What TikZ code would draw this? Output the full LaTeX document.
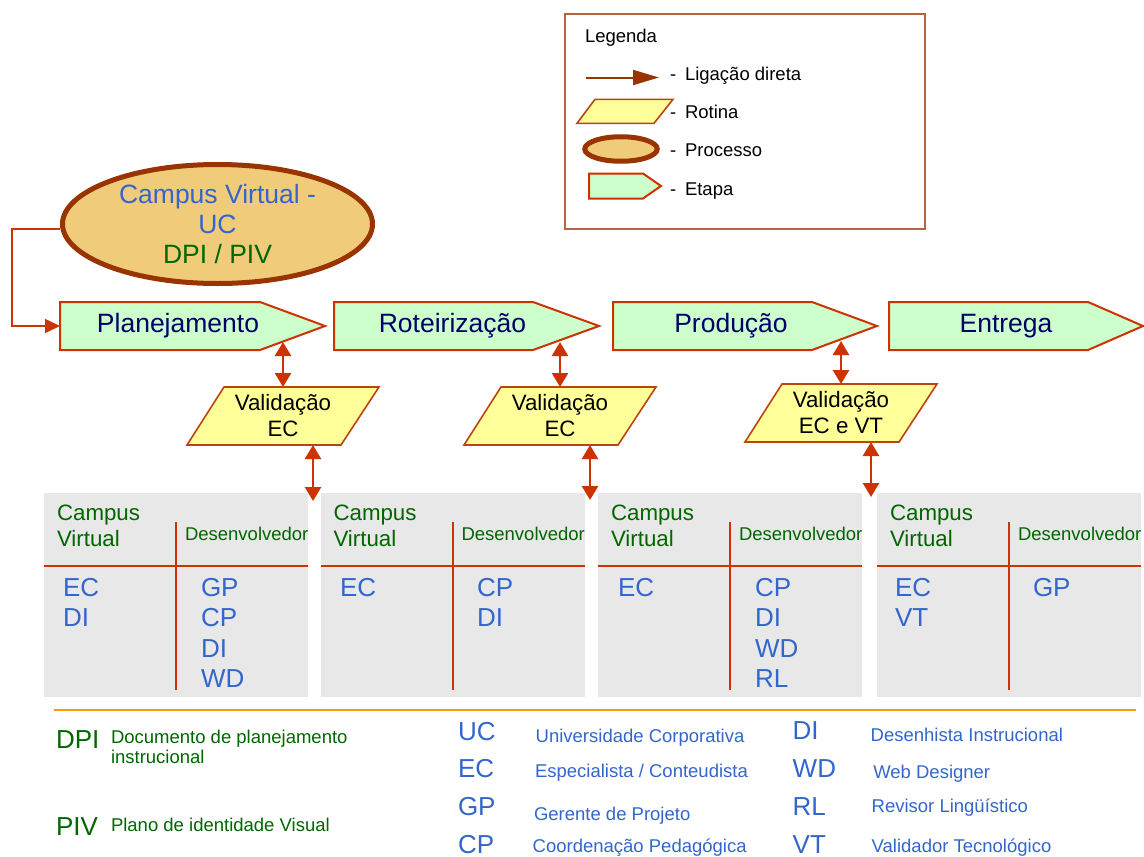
\documentclass[tikz,border=0pt]{standalone}
\usepackage{fontspec}
\setmainfont{Liberation Sans}
\usetikzlibrary{arrows.meta,shapes.geometric,backgrounds}

\definecolor{edge}{HTML}{CC3300}
\definecolor{darkrust}{HTML}{993300}
\definecolor{ochre}{HTML}{F0CC7A}
\definecolor{stagefill}{HTML}{CCFFCC}
\definecolor{navytext}{HTML}{000066}
\definecolor{valfill}{HTML}{FFFF99}
\definecolor{valedge}{HTML}{BB4411}
\definecolor{panelgray}{HTML}{E8E8E8}
\definecolor{cvblue}{HTML}{3366CC}
\definecolor{dgreen}{HTML}{006600}
\definecolor{legedge}{HTML}{B5653F}
\definecolor{orangeline}{HTML}{FF9900}

\newcommand\setfs[2]{\fontsize{#1}{#2}\selectfont}

\begin{document}
\begin{tikzpicture}[x=1pt,y=-1pt,
  every node/.style={inner sep=0pt, outer sep=0pt},
  lbl/.style={font=\setfs{18.5}{21}, text=black, anchor=base west},
  stagearea/.style={minimum height=48},
  stagesh/.style={draw=edge, line width=2pt, fill=stagefill},
  stagetext/.style={font=\setfs{26.5}{30}, text=navytext},
  valsh/.style={draw=valedge, line width=1.6pt, fill=valfill},
  valnode/.style={minimum width=192, minimum height=58, align=center,
                  font=\setfs{22.3}{26}, text=black},
  dbl/.style={draw=edge, line width=2.5pt,
              {Triangle[length=14pt,width=16pt]}-{Triangle[length=14pt,width=16pt]}},
  conn/.style={draw=edge, line width=1.5pt, -{Triangle[length=15pt,width=14pt]}},
  panel/.style={fill=panelgray, minimum width=264, minimum height=204},
  pline/.style={draw=edge, line width=2pt},
  hdr/.style={font=\setfs{22.3}{26}, text=dgreen, anchor=base west},
  dev/.style={font=\setfs{18.5}{21}, text=dgreen, anchor=base west},
  item/.style={font=\setfs{26}{30}, text=cvblue, anchor=base west},
  gcode/.style={font=\setfs{26}{30}, anchor=base west},
  gdesc/.style={font=\setfs{18.5}{21}, anchor=base west}]
\useasboundingbox (0,0) rectangle (1144,857);

% ---------- legend ----------
\node[draw=legedge, line width=1.3pt, minimum width=360, minimum height=215] (leg) at (745,121.5) {};
\node[lbl] (legt) at (585,42) {Legenda};
\coordinate (la0) at (586,77.5);
\coordinate (la1) at (659,77.5);
\draw[line width=2pt, darkrust, -{Triangle[length=26pt,width=15pt]}] (la0) -- (la1);
\draw[valsh] (577,123.3) -- (595,99.3) -- (673,99.3) -- (654,123.3) -- cycle;
\node[ellipse, draw=darkrust, line width=5pt, fill=ochre, minimum width=72.5, minimum height=24.5] (lell) at (621,149) {};
\draw[stagesh] (589,173.5) -- (643,173.5) -- (661,186) -- (643,198.5) -- (589,198.5) -- cycle;
\foreach \k/\y/\t in {1/80.7/Ligação direta, 2/118.3/Rotina, 3/156.7/Processo, 4/195.7/Etapa} {
  \node[lbl] (ld\k) at (670,\y) {-};
  \node[lbl] (lt\k) at (685,\y) {\t};
}

% ---------- process ellipse ----------
\node[ellipse, draw=darkrust, line width=5pt, fill=ochre, outer sep=2.5pt,
      minimum width=310, minimum height=119, align=center,
      font=\setfs{26.5}{30}, text=cvblue] (cv) at (217.5,224)
      {Campus Virtual -\\UC\\\textcolor{dgreen}{DPI / PIV}};

% ---------- stages ----------
\foreach \i/\cx/\w/\n/\tx/\lab in {1/192.5/265/65/178/Planejamento,
                                   2/466.5/265/66/452.5/Roteirização,
                                   3/745/264/65/731/Produção,
                                   4/1016/254/55/1006/Entrega} {
  \node[stagearea, minimum width=\w] (s\i) at (\cx,326) {};
  \begin{pgfonlayer}{background}
    \draw[stagesh] (s\i.north west) -- ([xshift=-\n]s\i.north east) -- (s\i.east)
      -- ([xshift=-\n]s\i.south east) -- (s\i.south west) -- cycle;
  \end{pgfonlayer}
  \node[stagetext] (st\i) at (\tx,326) {\lab};
}

\draw[conn] ([yshift=-5pt]cv.west) -- ++(-48,0) |- (s1.west);

% ---------- validation routines ----------
\node[valnode] (v1) at (283,416) {Validação\\EC};
\node[valnode] (v2) at (560,416) {Validação\\EC};
\node[valnode] (v3) at (841,413) {Validação\\EC e VT};
\begin{pgfonlayer}{background}
  \foreach \v in {v1,v2,v3}
    \draw[valsh] (\v.south west) -- ([xshift=37]\v.north west) -- (\v.north east)
      -- ([xshift=-38]\v.south east) -- cycle;
\end{pgfonlayer}

\draw[dbl] (v1.north) -- ++(0,-45);
\draw[dbl] (v2.north) -- ++(0,-45);
\draw[dbl] (v3.north) -- ++(0,-43);
\draw[dbl] ([xshift=30]v1.south) -- ++(0,56);
\draw[dbl] ([xshift=30]v2.south) -- ++(0,55);
\draw[dbl] ([xshift=30]v3.south) -- ++(0,55);

% ---------- role panels ----------
\foreach \i/\x/\c in {1/44/176, 2/320.5/452.5, 3/598/730, 4/877/1009} {
  \node[panel] (pan\i) at (\c,595) {};
  \draw[pline] ([yshift=-73]pan\i.north west) -- ([yshift=-73]pan\i.north east);
  \draw[pline] ([yshift=-29]pan\i.north) -- ([yshift=7]pan\i.south);
  \node[hdr] (pc\i) at ({\x+13},520.7) {Campus};
  \node[hdr] (pv\i) at ({\x+13},546.7) {Virtual};
  \node[dev] (pd\i) at ({\c+9},540.7) {Desenvolvedor};
}
\foreach \t [count=\k] in {EC,DI}       \node[item] (p1l\k) at (63,{596+30.6*(\k-1)}) {\t};
\foreach \t [count=\k] in {GP,CP,DI,WD} \node[item] (p1r\k) at (201,{596+30.6*(\k-1)}) {\t};
\node[item] (p2l1) at (340,596) {EC};
\foreach \t [count=\k] in {CP,DI}       \node[item] (p2r\k) at (477,{596+30.6*(\k-1)}) {\t};
\node[item] (p3l1) at (618,596) {EC};
\foreach \t [count=\k] in {CP,DI,WD,RL} \node[item] (p3r\k) at (755,{596+30.6*(\k-1)}) {\t};
\foreach \t [count=\k] in {EC,VT}       \node[item] (p4l\k) at (895,{596+30.6*(\k-1)}) {\t};
\node[item] (p4r1) at (1033,596) {GP};

% ---------- glossary ----------
\coordinate (ol0) at (54,710);
\coordinate (ol1) at (1136,710);
\draw[line width=2pt, orangeline] (ol0) -- (ol1);

\node[gcode, text=dgreen] (gDPI) at (56,748.3) {DPI};
\node[font=\setfs{18.5}{20.7}, text=dgreen, align=left, anchor=north west]
     (gDPId) at (111,729.8) {Documento de planejamento\\instrucional};
\node[gcode, text=dgreen] (gPIV) at (56,835) {PIV};
\node[gdesc, text=dgreen] (gPIVd) at (111,831.7) {Plano de identidade Visual};

\node[gcode, text=cvblue] (gUC) at (458,740.7) {UC};
\node[gdesc, text=cvblue] (gUCd) at (535.7,742.7) {Universidade Corporativa};
\node[gcode, text=cvblue] (gEC) at (458,777.3) {EC};
\node[gdesc, text=cvblue] (gECd) at (535,777.3) {Especialista / Conteudista};
\node[gcode, text=cvblue] (gGP) at (458,815) {GP};
\node[gdesc, text=cvblue] (gGPd) at (534,820) {Gerente de Projeto};
\node[gcode, text=cvblue] (gCP) at (458,853.5) {CP};
\node[gdesc, text=cvblue] (gCPd) at (532.7,852) {Coordenação Pedagógica};

\node[gcode, text=cvblue] (gDI) at (792.7,739.3) {DI};
\node[gdesc, text=cvblue] (gDId) at (870.7,741.7) {Desenhista Instrucional};
\node[gcode, text=cvblue] (gWD) at (792.7,777.3) {WD};
\node[gdesc, text=cvblue] (gWDd) at (873.3,778.3) {Web Designer};
\node[gcode, text=cvblue] (gRL) at (792.7,815) {RL};
\node[gdesc, text=cvblue] (gRLd) at (871.7,812.7) {Revisor Lingüístico};
\node[gcode, text=cvblue] (gVT) at (792.7,853) {VT};
\node[gdesc, text=cvblue] (gVTd) at (871.7,852) {Validador Tecnológico};
\end{tikzpicture}
\end{document}
